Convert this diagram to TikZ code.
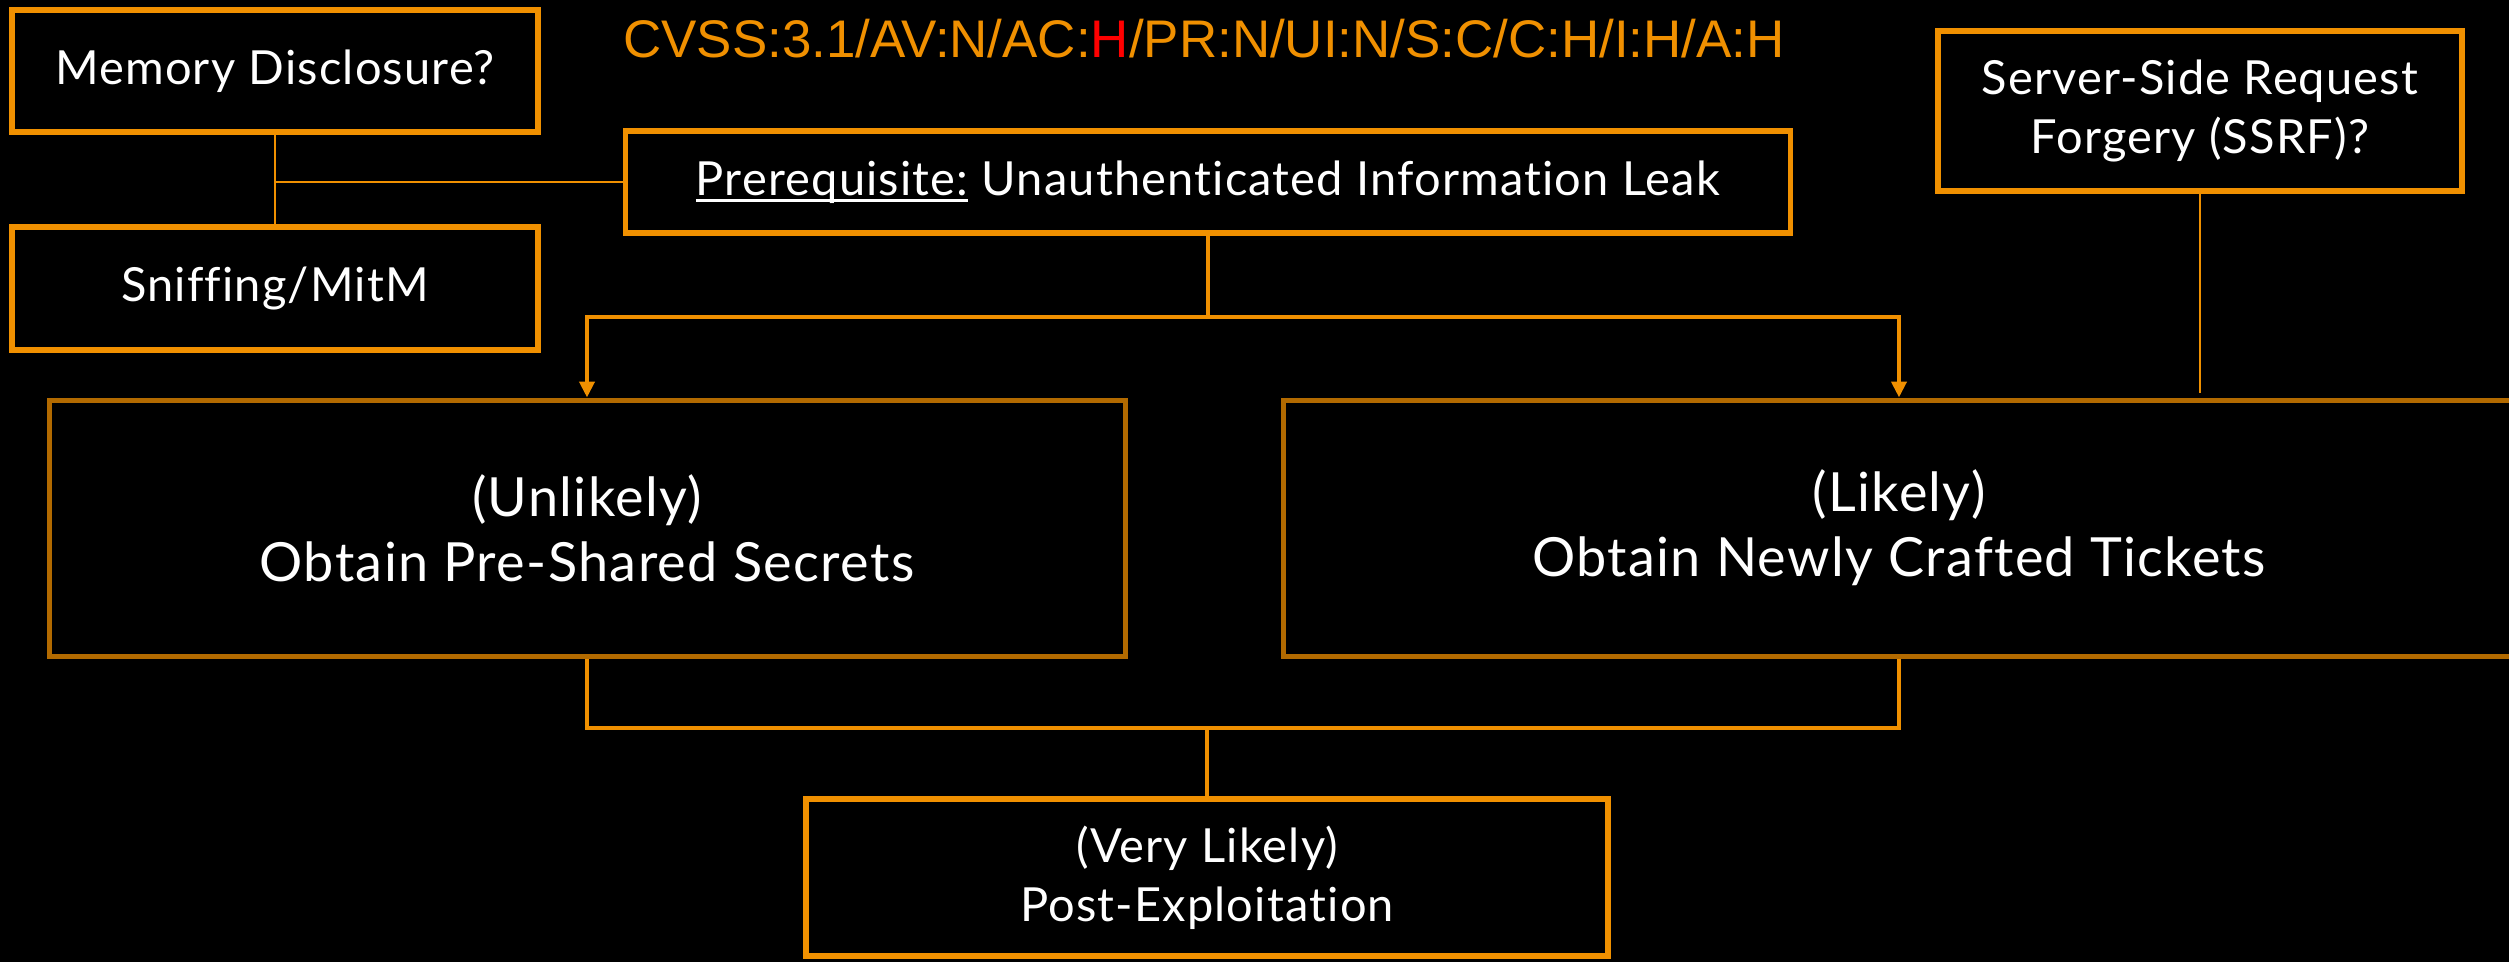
\documentclass[tikz,border=0pt]{standalone}
\usepackage{fontspec}
\setmainfont{Lato}[Ligatures=NoCommon, LetterSpace=2.5]
\newfontfamily\cvssfont{Liberation Sans}
\usetikzlibrary{arrows.meta}
\definecolor{brightorange}{RGB}{240,144,0}
\definecolor{darkorange}{RGB}{178,106,0}
\definecolor{alertred}{RGB}{255,0,0}
% underline drawn as a solid rule just below the baseline
\newsavebox{\ulbox}
\newcommand{\heavyul}[1]{\sbox{\ulbox}{#1}\rlap{\rule[-7pt]{\wd\ulbox}{3pt}}\usebox{\ulbox}}
\tikzset{
  box/.style={draw=brightorange, line width=5.5pt, fill=black, text=white,
    rectangle, inner sep=0pt, align=center},
  bigbox/.style={box, draw=darkorange, line width=5pt},
  smalltext/.style={font=\fontsize{47}{59}\selectfont},
  bigtext/.style={font=\fontsize{54}{65}\selectfont},
  thinlink/.style={draw=brightorange, line width=2pt},
  link/.style={draw=brightorange, line width=4.5pt},
  arrowlink/.style={link, -{Triangle[length=16pt,width=15pt]}},
}
\begin{document}
\begin{tikzpicture}[x=1pt, y=-1pt]
  % canvas
  \fill[black] (0,0) rectangle (2509,962);
  \useasboundingbox (0,0) rectangle (2509,962);

  % vector string
  \node[anchor=base west, inner sep=0pt, text=brightorange] (cvss) at (623,57)
    {\resizebox{1161pt}{!}{\cvssfont CVSS:3.1/AV:N/AC:\textcolor{alertred}{H}/PR:N/UI:N/S:C/C:H/I:H/A:H}};

  % boxes
  \node[box, smalltext, minimum width=526pt, minimum height=122pt] (mem) at (275,71) {Memory Disclosure?};
  \node[box, smalltext, minimum width=526pt, minimum height=123pt] (sniff) at (275,288.5) {Sniffing/MitM};
  \node[box, smalltext, minimum width=1165pt, minimum height=102pt] (pre) at (1208,182)
    {\heavyul{Prerequisite:} Unauthenticated Information Leak};
  \node[box, smalltext, minimum width=524pt, minimum height=160pt] (ssrf) at (2200,111)
    {Server-Side Request\\Forgery (SSRF)?};
  \node[bigbox, bigtext, minimum width=1076pt, minimum height=256pt] (lb) at (587,528)
    {(Unlikely)\\Obtain Pre-Shared Secrets};
  \node[bigbox, bigtext, minimum width=1232pt, minimum height=256pt] (rb) at (1899,528)
    {(Likely)\\Obtain Newly Crafted Tickets};
  \node[box, smalltext, minimum width=802pt, minimum height=157pt] (post) at (1207,877.5)
    {(Very Likely)\\Post-Exploitation};

  % side sources
  \draw[thinlink] (mem.south) -- (sniff.north);
  \draw[thinlink] (pre.west) -- (pre.west -| mem.south);
  \coordinate (ssrfend) at (ssrf.south |- 0,393);
  \draw[thinlink] (ssrf.south) -- (ssrfend);

  % prerequisite fan-out
  \coordinate (split) at (pre.south |- 0,317);
  \draw[link] (pre.south) -- (split);
  \draw[arrowlink] (split) -| (lb.north);
  \draw[arrowlink] (split) -| (rb.north);

  % merge into post-exploitation
  \coordinate (merge) at (post.north |- 0,728);
  \draw[link] (lb.south) |- (merge) -| (rb.south);
  \draw[link] (merge) -- (post.north);
\end{tikzpicture}
\end{document}
